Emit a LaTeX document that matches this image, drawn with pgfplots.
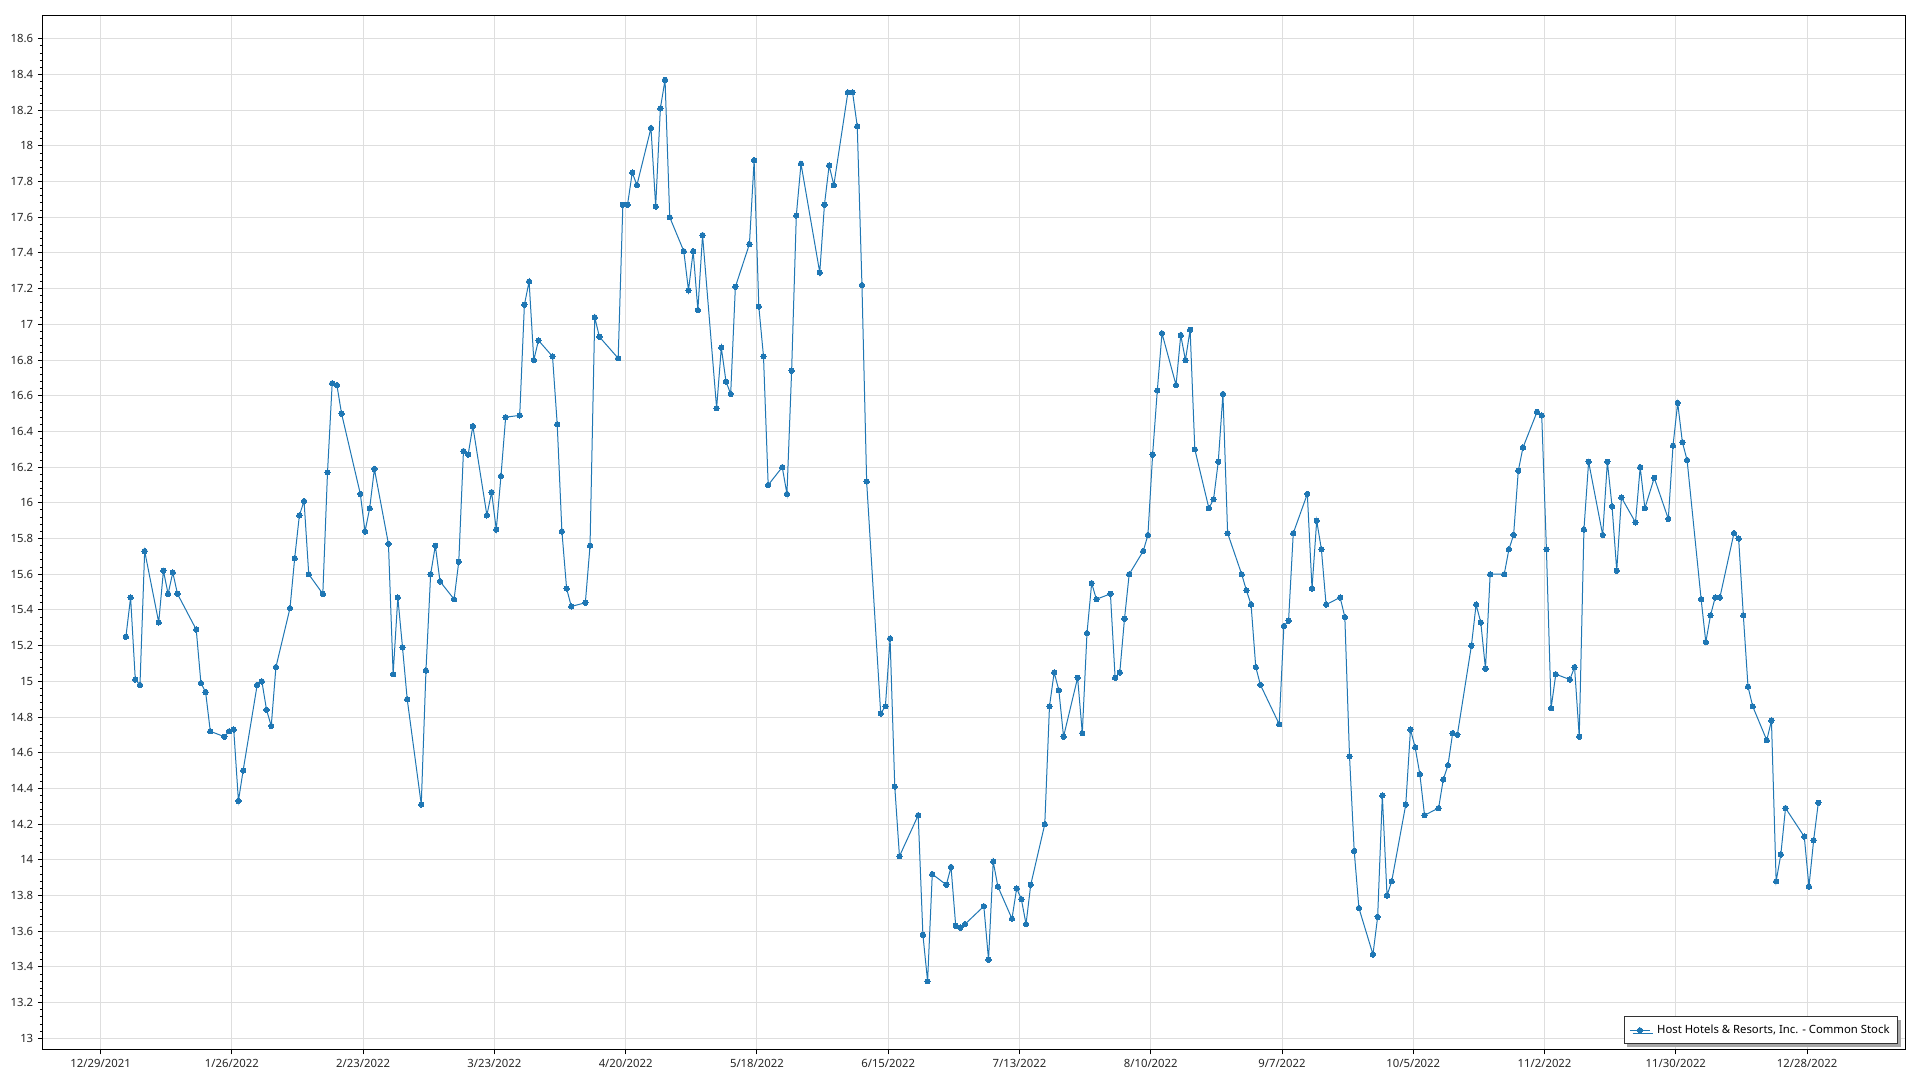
\documentclass[border=0pt]{standalone}
\usepackage{pgfplots}
\pgfplotsset{compat=1.18}
\usepackage{pgfplotstable}
\usepackage{fontspec}
\setmainfont{Noto Sans}
\usetikzlibrary{shadows}
\definecolor{series}{RGB}{31,119,180}
\definecolor{gridc}{RGB}{222,222,222}

\pgfplotstableread{
d v
5 15.25
6 15.47
7 15.01
8 14.98
9 15.73
12 15.33
13 15.62
14 15.49
15 15.61
16 15.49
20 15.29
21 14.99
22 14.94
23 14.72
26 14.69
27 14.72
28 14.73
29 14.33
30 14.50
33 14.98
34 15.00
35 14.84
36 14.75
37 15.08
40 15.41
41 15.69
42 15.93
43 16.01
44 15.60
47 15.49
48 16.17
49 16.67
50 16.66
51 16.50
55 16.05
56 15.84
57 15.97
58 16.19
61 15.77
62 15.04
63 15.47
64 15.19
65 14.90
68 14.31
69 15.06
70 15.60
71 15.76
72 15.56
75 15.46
76 15.67
77 16.29
78 16.27
79 16.43
82 15.93
83 16.06
84 15.85
85 16.15
86 16.48
89 16.49
90 17.11
91 17.24
92 16.80
93 16.91
96 16.82
97 16.44
98 15.84
99 15.52
100 15.42
103 15.44
104 15.76
105 17.04
106 16.93
110 16.81
111 17.67
112 17.67
113 17.85
114 17.78
117 18.10
118 17.66
119 18.21
120 18.37
121 17.60
124 17.41
125 17.19
126 17.41
127 17.08
128 17.50
131 16.53
132 16.87
133 16.68
134 16.61
135 17.21
138 17.45
139 17.92
140 17.10
141 16.82
142 16.10
145 16.20
146 16.05
147 16.74
148 17.61
149 17.90
153 17.29
154 17.67
155 17.89
156 17.78
159 18.30
160 18.30
161 18.11
162 17.22
163 16.12
166 14.82
167 14.86
168 15.24
169 14.41
170 14.02
174 14.25
175 13.58
176 13.32
177 13.92
180 13.86
181 13.96
182 13.63
183 13.62
184 13.64
188 13.74
189 13.44
190 13.99
191 13.85
194 13.67
195 13.84
196 13.78
197 13.64
198 13.86
201 14.20
202 14.86
203 15.05
204 14.95
205 14.69
208 15.02
209 14.71
210 15.27
211 15.55
212 15.46
215 15.49
216 15.02
217 15.05
218 15.35
219 15.60
222 15.73
223 15.82
224 16.27
225 16.63
226 16.95
229 16.66
230 16.94
231 16.80
232 16.97
233 16.30
236 15.97
237 16.02
238 16.23
239 16.61
240 15.83
243 15.60
244 15.51
245 15.43
246 15.08
247 14.98
251 14.76
252 15.31
253 15.34
254 15.83
257 16.05
258 15.52
259 15.90
260 15.74
261 15.43
264 15.47
265 15.36
266 14.58
267 14.05
268 13.73
271 13.47
272 13.68
273 14.36
274 13.80
275 13.88
278 14.31
279 14.73
280 14.63
281 14.48
282 14.25
285 14.29
286 14.45
287 14.53
288 14.71
289 14.70
292 15.20
293 15.43
294 15.33
295 15.07
296 15.60
299 15.60
300 15.74
301 15.82
302 16.18
303 16.31
306 16.51
307 16.49
308 15.74
309 14.85
310 15.04
313 15.01
314 15.08
315 14.69
316 15.85
317 16.23
320 15.82
321 16.23
322 15.98
323 15.62
324 16.03
327 15.89
328 16.20
329 15.97
331 16.14
334 15.91
335 16.32
336 16.56
337 16.34
338 16.24
341 15.46
342 15.22
343 15.37
344 15.47
345 15.47
348 15.83
349 15.80
350 15.37
351 14.97
352 14.86
355 14.67
356 14.78
357 13.88
358 14.03
359 14.29
363 14.13
364 13.85
365 14.11
366 14.32
}\stock

\begin{document}
\begin{tikzpicture}[x=1pt,y=1pt]
\useasboundingbox[fill=white] (0,0) rectangle (1440,810);
\begin{axis}[
  at={(32.2pt,22.95pt)}, anchor=south west,
  scale only axis,
  width=1396.6pt, height=775.1pt,
  xmin=-12.3, xmax=384.9,
  ymin=12.938, ymax=18.728,
  xtick={0,28,56,84,112,140,168,196,224,252,280,308,336,364},
  xticklabels={12/29/2021,1/26/2022,2/23/2022,3/23/2022,4/20/2022,5/18/2022,6/15/2022,7/13/2022,8/10/2022,9/7/2022,10/5/2022,11/2/2022,11/30/2022,12/28/2022},
  ytick={13,13.2,13.4,13.6,13.8,14,14.2,14.4,14.6,14.8,15,15.2,15.4,15.6,15.8,16,16.2,16.4,16.6,16.8,17,17.2,17.4,17.6,17.8,18,18.2,18.4,18.6},
  minor y tick num=4,
  /pgf/number format/assume math mode=true,
  yticklabel style={/pgf/number format/fixed, /pgf/number format/precision=1},
  ticklabel style={font=\fontsize{8.5}{10}\selectfont, text=black!85},
  grid=major,
  major grid style={gridc, line width=0.75pt},
  tick pos=left,
  tick align=outside,
  major tick length=3.75pt,
  minor tick length=2.25pt,
  every tick/.style={black, line width=0.75pt},
  axis line style={black, line width=0.75pt},
  legend style={at={(1,0)}, anchor=south east, xshift=-5.25pt, yshift=4pt,
    draw=black!80, line width=0.75pt, fill=white,
    drop shadow={shadow xshift=2.25pt, shadow yshift=-2.25pt, fill=black!35, opacity=1},
    inner xsep=4pt, inner ysep=4pt,
    font=\fontsize{8.5}{10}\selectfont, cells={anchor=west},
    /tikz/every odd column/.append style={column sep=3pt}},
  legend image code/.code={\draw[#1, mark repeat=2, mark phase=2] plot coordinates {(0pt,0pt) (7.5pt,0pt) (15pt,0pt)};},
]
\addplot[series, line width=0.75pt, mark=*, mark size=2pt, mark options={fill=series, draw=series, line width=0pt}]
  table[x expr=\thisrow{d}+0.4, y=v] {\stock};
\addlegendentry{Host Hotels \& Resorts, Inc. - Common Stock}
\end{axis}
\end{tikzpicture}
\end{document}
